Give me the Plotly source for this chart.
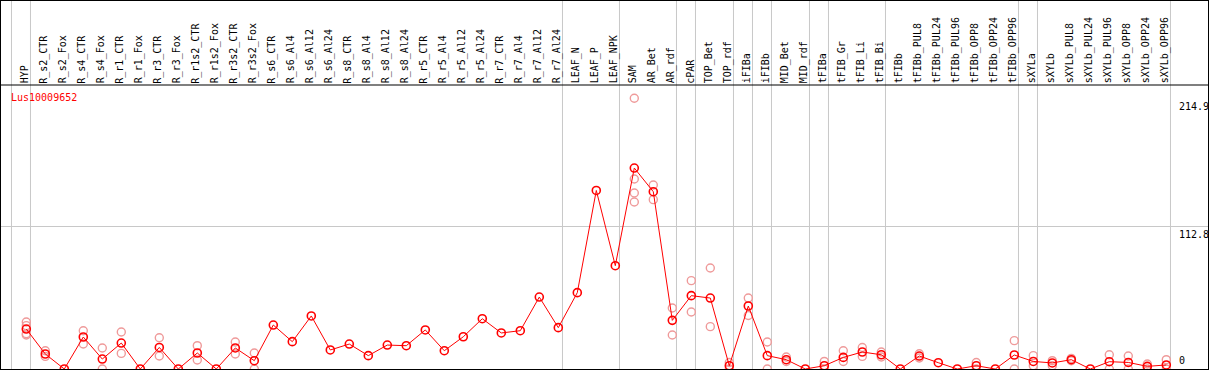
import plotly.graph_objects as go

gene = "Lus10009652"

categories = [
    "HYP", "R_s2_CTR", "R_s2_Fox", "R_s4_CTR", "R_s4_Fox", "R_r1_CTR", "R_r1_Fox",
    "R_r3_CTR", "R_r3_Fox", "R_r1s2_CTR", "R_r1s2_Fox", "R_r3s2_CTR", "R_r3s2_Fox",
    "R_s6_CTR", "R_s6_Al4", "R_s6_Al12", "R_s6_Al24", "R_s8_CTR", "R_s8_Al4",
    "R_s8_Al12", "R_s8_Al24", "R_r5_CTR", "R_r5_Al4", "R_r5_Al12", "R_r5_Al24",
    "R_r7_CTR", "R_r7_Al4", "R_r7_Al12", "R_r7_Al24", "LEAF_N", "LEAF_P", "LEAF_NPK",
    "SAM", "AR_Bet", "AR_rdf", "cPAR", "TOP_Bet", "TOP_rdf", "iFIBa", "iFIBb",
    "MID_Bet", "MID_rdf", "tFIBa", "tFIB_Gr", "tFIB_Li", "tFIB_Bi", "tFIBb",
    "tFIBb_PUL8", "tFIBb_PUL24", "tFIBb_PUL96", "tFIBb_OPP8", "tFIBb_OPP24",
    "tFIBb_OPP96", "sXYLa", "sXYLb", "sXYLb_PUL8", "sXYLb_PUL24", "sXYLb_PUL96",
    "sXYLb_OPP8", "sXYLb_OPP24", "sXYLb_OPP96",
]

mean_values = [
    31.7, 11.9, 0, 25.4, 7.9, 20.6, 0, 17.1, 0, 12.7, 0, 16.7, 6.6,
    34.9, 21.7, 42.1, 15.1, 19.8, 10.6, 19.0, 18.5, 31.0, 14.5, 25.6, 39.9,
    28.6, 30.4, 57.1, 32.8, 60.6, 141.7, 82.0,
    159.5, 140.7, 38.6, 58.2, 56.3, 2.6, 50.0, 10.6,
    7.4, 0, 2.6, 9.2, 13.5, 11.3, 0,
    10.3, 5.0, 0, 2.6, 0, 11.1,
    6.0, 4.8, 7.4, 0, 5.8, 5.2, 2.1, 3.2,
]

rep_categories = [
    "HYP", "HYP", "HYP", "HYP",
    "R_s2_CTR", "R_s2_CTR", "R_s4_CTR", "R_s4_CTR", "R_s4_Fox", "R_s4_Fox",
    "R_r1_CTR", "R_r1_CTR", "R_r3_CTR", "R_r3_CTR", "R_r1s2_CTR", "R_r1s2_CTR",
    "R_r3s2_CTR", "R_r3s2_CTR", "R_r3s2_Fox", "R_r3s2_Fox",
    "SAM", "SAM", "SAM", "SAM", "AR_Bet", "AR_Bet", "AR_rdf", "AR_rdf",
    "cPAR", "cPAR", "TOP_Bet", "TOP_Bet", "TOP_rdf", "TOP_rdf",
    "iFIBa", "iFIBa", "iFIBb", "iFIBb", "MID_Bet", "MID_Bet", "tFIBa", "tFIBa",
    "tFIB_Gr", "tFIB_Gr", "tFIB_Li", "tFIB_Li", "tFIB_Bi", "tFIB_Bi",
    "tFIBb_PUL8", "tFIBb_PUL8", "tFIBb_OPP8", "tFIBb_OPP8", "tFIBb_OPP96", "tFIBb_OPP96",
    "sXYLa", "sXYLa", "sXYLb", "sXYLb", "sXYLb_PUL8", "sXYLb_PUL8",
    "sXYLb_PUL96", "sXYLb_PUL96", "sXYLb_OPP8", "sXYLb_OPP8",
    "sXYLb_OPP24", "sXYLb_OPP24", "sXYLb_OPP96", "sXYLb_OPP96",
]

rep_values = [
    37.3, 34.4, 28.0, 27.0,
    14.5, 10.0, 30.4, 19.8, 16.7, 0,
    29.4, 12.4, 24.8, 10.3, 18.5, 7.1,
    21.4, 11.9, 12.7, 0,
    214.9, 150.8, 139.7, 132.5, 146.0, 134.4, 48.4, 27.0,
    70.1, 45.2, 80.2, 33.6, 5.2, 0,
    56.3, 42.5, 21.4, 0, 9.5, 6.0, 6.0, 0,
    14.5, 6.0, 17.1, 10.0, 13.5, 9.5,
    12.1, 8.7, 5.2, 0, 22.5, 0,
    10.6, 2.6, 6.6, 2.6, 8.4, 6.6,
    11.3, 0, 10.3, 0,
    4.0, 0, 7.4, 0,
]

# last category of each group (separator drawn just after it)
group_ends = ["HYP", "R_r7_Al24", "LEAF_NPK", "AR_rdf", "cPAR", "TOP_rdf", "iFIBa",
              "iFIBb", "MID_rdf", "tFIBa", "tFIB_Bi", "tFIBb_OPP96", "sXYLa", "sXYLb_OPP96"]

y_ticks = [0, 112.8, 214.9]
y_tick_text = ["0", "112.8", "214.9"]

FONT = "DejaVu Sans Mono"
W, H = 1209, 370
ML, MR, MT, MB = 1, 1, 1, 1
plot_h = H - MT - MB
plot_w = W - ML - MR
px_per_cat = 19.0
first_px = 26.3
x0 = -(first_px - ML) / px_per_cat
x1 = x0 + plot_w / px_per_cat
y_scale = 1.26  # px per unit
y_top = (plot_h) / y_scale


def py_to_paper(py):
    return (H - MB - py) / plot_h


fig = go.Figure()

fig.add_trace(go.Scatter(
    x=rep_categories, y=rep_values, mode="markers",
    marker=dict(symbol="circle-open", size=8, color="#ef9a9a", line=dict(width=1.4, color="#ef9a9a")),
    hoverinfo="x+y", showlegend=False,
))
fig.add_trace(go.Scatter(
    x=categories, y=mean_values, mode="lines+markers",
    line=dict(color="#ff0000", width=1),
    marker=dict(symbol="circle-open", size=8, color="#ff0000", line=dict(width=1.6, color="#ff0000")),
    showlegend=False,
))

shapes = []
sep_positions = [-1 + 0.22] + [categories.index(c) + 0.22 for c in group_ends]
for xp in sep_positions:
    shapes.append(dict(type="line", xref="x", yref="paper", x0=xp, x1=xp, y0=0, y1=1,
                       line=dict(color="#c8c8c8", width=1), layer="below"))
shapes.append(dict(type="line", xref="paper", yref="paper", x0=0, x1=1,
                   y0=py_to_paper(85), y1=py_to_paper(85), line=dict(color="black", width=1.2)))

annotations = []
for c in categories:
    annotations.append(dict(
        x=categories.index(c) - 0.08, y=py_to_paper(84.5), xref="x", yref="paper",
        text=c, textangle=-90, showarrow=False, xanchor="center", yanchor="bottom",
        font=dict(family=FONT, size=10, color="black"), borderpad=0,
    ))
annotations.append(dict(
    x=(9.5 - ML) / plot_w, y=py_to_paper(97), xref="paper", yref="paper",
    text=gene, showarrow=False, xanchor="left", yanchor="middle",
    font=dict(family=FONT, size=10, color="#ff0000"), borderpad=0,
))
for v, t in zip(y_ticks, y_tick_text):
    annotations.append(dict(
        x=(1177.5 - ML) / plot_w, y=v, xref="paper", yref="y",
        text=t, showarrow=False, xanchor="left",
        yanchor="bottom" if v == 0 else "top",
        yshift=2 if v == 0 else (-1 if v == 112.8 else -2),
        font=dict(family=FONT, size=10, color="black"), borderpad=0,
    ))

fig.update_layout(
    width=W, height=H,
    margin=dict(l=ML, r=MR, t=MT, b=MB, pad=0),
    paper_bgcolor="white", plot_bgcolor="white",
    shapes=shapes, annotations=annotations,
    xaxis=dict(type="category", categoryorder="array", categoryarray=categories,
               range=[x0, x1], showgrid=False, showticklabels=False, ticks="",
               showline=True, mirror=True, linecolor="black", linewidth=1, zeroline=False),
    yaxis=dict(range=[0, y_top], tickvals=[112.8], showgrid=True, gridcolor="#c8c8c8",
               gridwidth=1, showticklabels=False, ticks="", zeroline=False,
               showline=True, mirror=True, linecolor="black", linewidth=1),
)

fig.write_html("out.html", config={"displayModeBar": False},
               post_script="document.body.style.margin='0';document.body.style.overflow='hidden';")
